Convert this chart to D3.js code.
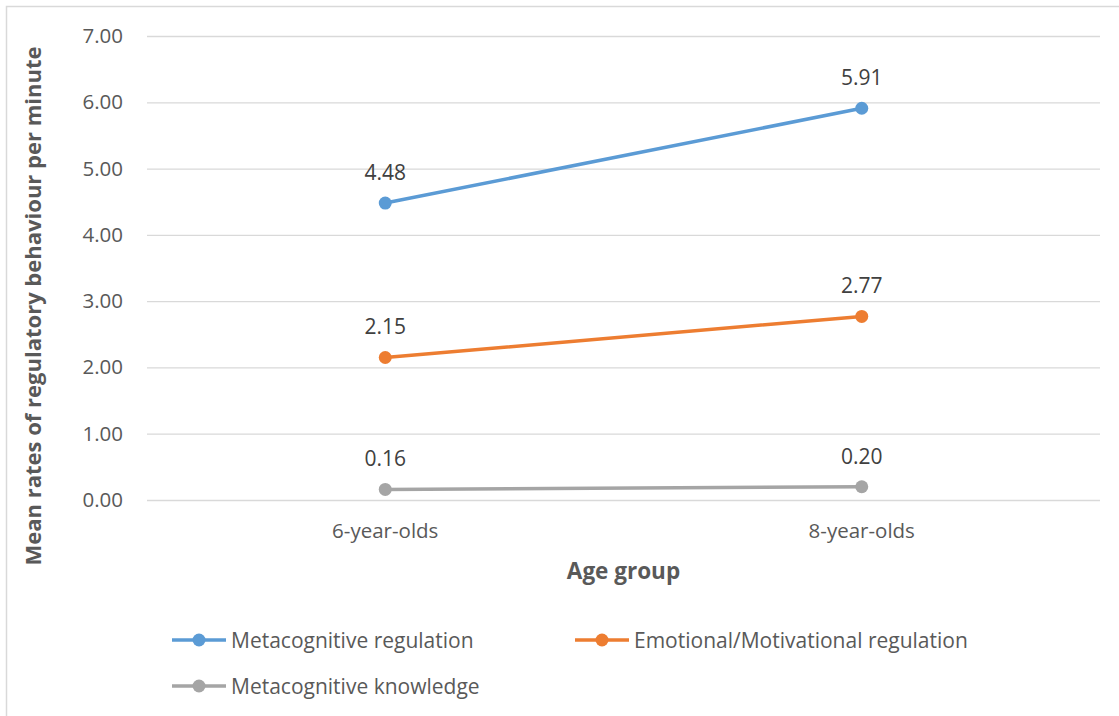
<!DOCTYPE html>
<html>
<head>
<meta charset="utf-8">
<script src="https://cdn.jsdelivr.net/npm/d3@7"></script>
<style>
  body { margin: 0; background: #fff; }
  text { font-family: "Open Sans", sans-serif; }
</style>
</head>
<body>
<div id="chart"></div>
<script>
// data
const categories = ["6-year-olds", "8-year-olds"];
const seriesNames = ["Metacognitive regulation", "Emotional/Motivational regulation", "Metacognitive knowledge"];
const metacogRegulation = [4.48, 5.91];
const emotionalRegulation = [2.15, 2.77];
const metacogKnowledge = [0.16, 0.20];
const yTicks = [0, 1, 2, 3, 4, 5, 6, 7];
const colors = ["#5B9BD5", "#ED7D31", "#A5A5A5"];

const series = [metacogRegulation, emotionalRegulation, metacogKnowledge].map((vals, i) => ({
  name: seriesNames[i],
  color: colors[i],
  values: vals.map((v, j) => ({ cat: categories[j], value: v }))
}));

const W = 1119, H = 716;
const margin = { top: 36, right: 19, bottom: 216, left: 147 };
const width = W - margin.left - margin.right,
  height = H - margin.top - margin.bottom;

const root = d3.select("#chart")
  .append("svg")
  .attr("width", W)
  .attr("height", H);

// chart frame
root.append("rect")
  .attr("x", 6.5)
  .attr("y", 6.5)
  .attr("width", W + 10)
  .attr("height", H + 10)
  .attr("fill", "none")
  .attr("stroke", "#d9d9d9")
  .attr("stroke-width", 1.5);

const svg = root.append("g")
  .attr("transform", `translate(${margin.left},${margin.top})`);

const x = d3.scaleBand()
  .domain(categories)
  .range([0, width]);

const y = d3.scaleLinear()
  .domain([0, 7])
  .range([height, 0]);

// gridlines + y labels
const yAxis = svg.append("g")
  .call(d3.axisLeft(y).tickValues(yTicks).tickSize(-width).tickFormat(d3.format(".2f")).tickPadding(24));
yAxis.select(".domain").remove();
yAxis.selectAll("line").attr("stroke", "#d9d9d9").attr("stroke-width", 1.3);
yAxis.selectAll("text")
  .attr("fill", "#595959")
  .style("font-size", "20.5px")
  .style("font-family", "'Open Sans', sans-serif");

// x labels
const xAxis = svg.append("g")
  .attr("transform", `translate(0,${height})`)
  .call(d3.axisBottom(x).tickSize(0).tickPadding(23));
xAxis.select(".domain").remove();
xAxis.selectAll("text")
  .attr("fill", "#595959")
  .style("font-size", "20.5px")
  .style("font-family", "'Open Sans', sans-serif");

// axis titles
svg.append("text")
  .attr("x", width / 2)
  .attr("y", height + 79)
  .attr("text-anchor", "middle")
  .attr("fill", "#595959")
  .attr("font-weight", "bold")
  .attr("font-size", "22.5px")
  .text("Age group");

svg.append("text")
  .attr("transform", `translate(${32 - margin.left},${306 - margin.top}) rotate(-90)`)
  .attr("text-anchor", "middle")
  .attr("dominant-baseline", "central")
  .attr("fill", "#595959")
  .attr("font-weight", "bold")
  .attr("font-size", "22px")
  .text("Mean rates of regulatory behaviour per minute");

const cx = d => x(d.cat) + x.bandwidth() / 2;
const line = d3.line().x(cx).y(d => y(d.value));

const g = svg.selectAll(".series")
  .data(series)
  .enter()
  .append("g")
  .attr("class", "series");

g.append("path")
  .attr("d", d => line(d.values))
  .attr("fill", "none")
  .attr("stroke", d => d.color)
  .attr("stroke-width", 3.5)
  .attr("stroke-linecap", "round");

g.each(function (s) {
  const sel = d3.select(this);
  sel.selectAll("circle")
    .data(s.values)
    .enter()
    .append("circle")
    .attr("cx", cx)
    .attr("cy", d => y(d.value))
    .attr("r", 6.5)
    .attr("fill", s.color);
  sel.selectAll(".lbl")
    .data(s.values)
    .enter()
    .append("text")
    .attr("class", "lbl")
    .attr("x", cx)
    .attr("y", d => y(d.value) - 31)
    .attr("text-anchor", "middle")
    .attr("dominant-baseline", "central")
    .attr("fill", "#404040")
    .attr("font-size", "21px")
    .text(d => d.value.toFixed(2));
});

// legend
const legendPos = [[172, 640], [575, 640], [172, 686]];
const legend = root.selectAll(".legend")
  .data(series)
  .enter()
  .append("g")
  .attr("class", "legend")
  .attr("transform", (d, i) => `translate(${legendPos[i][0]},${legendPos[i][1]})`);

legend.append("line")
  .attr("x1", 0).attr("x2", 54)
  .attr("stroke", d => d.color)
  .attr("stroke-width", 3.5);
legend.append("circle")
  .attr("cx", 27)
  .attr("r", 6.5)
  .attr("fill", d => d.color);
legend.append("text")
  .attr("x", 59)
  .attr("dominant-baseline", "central")
  .attr("fill", "#595959")
  .attr("font-size", "21px")
  .text(d => d.name);
</script>
</body>
</html>
